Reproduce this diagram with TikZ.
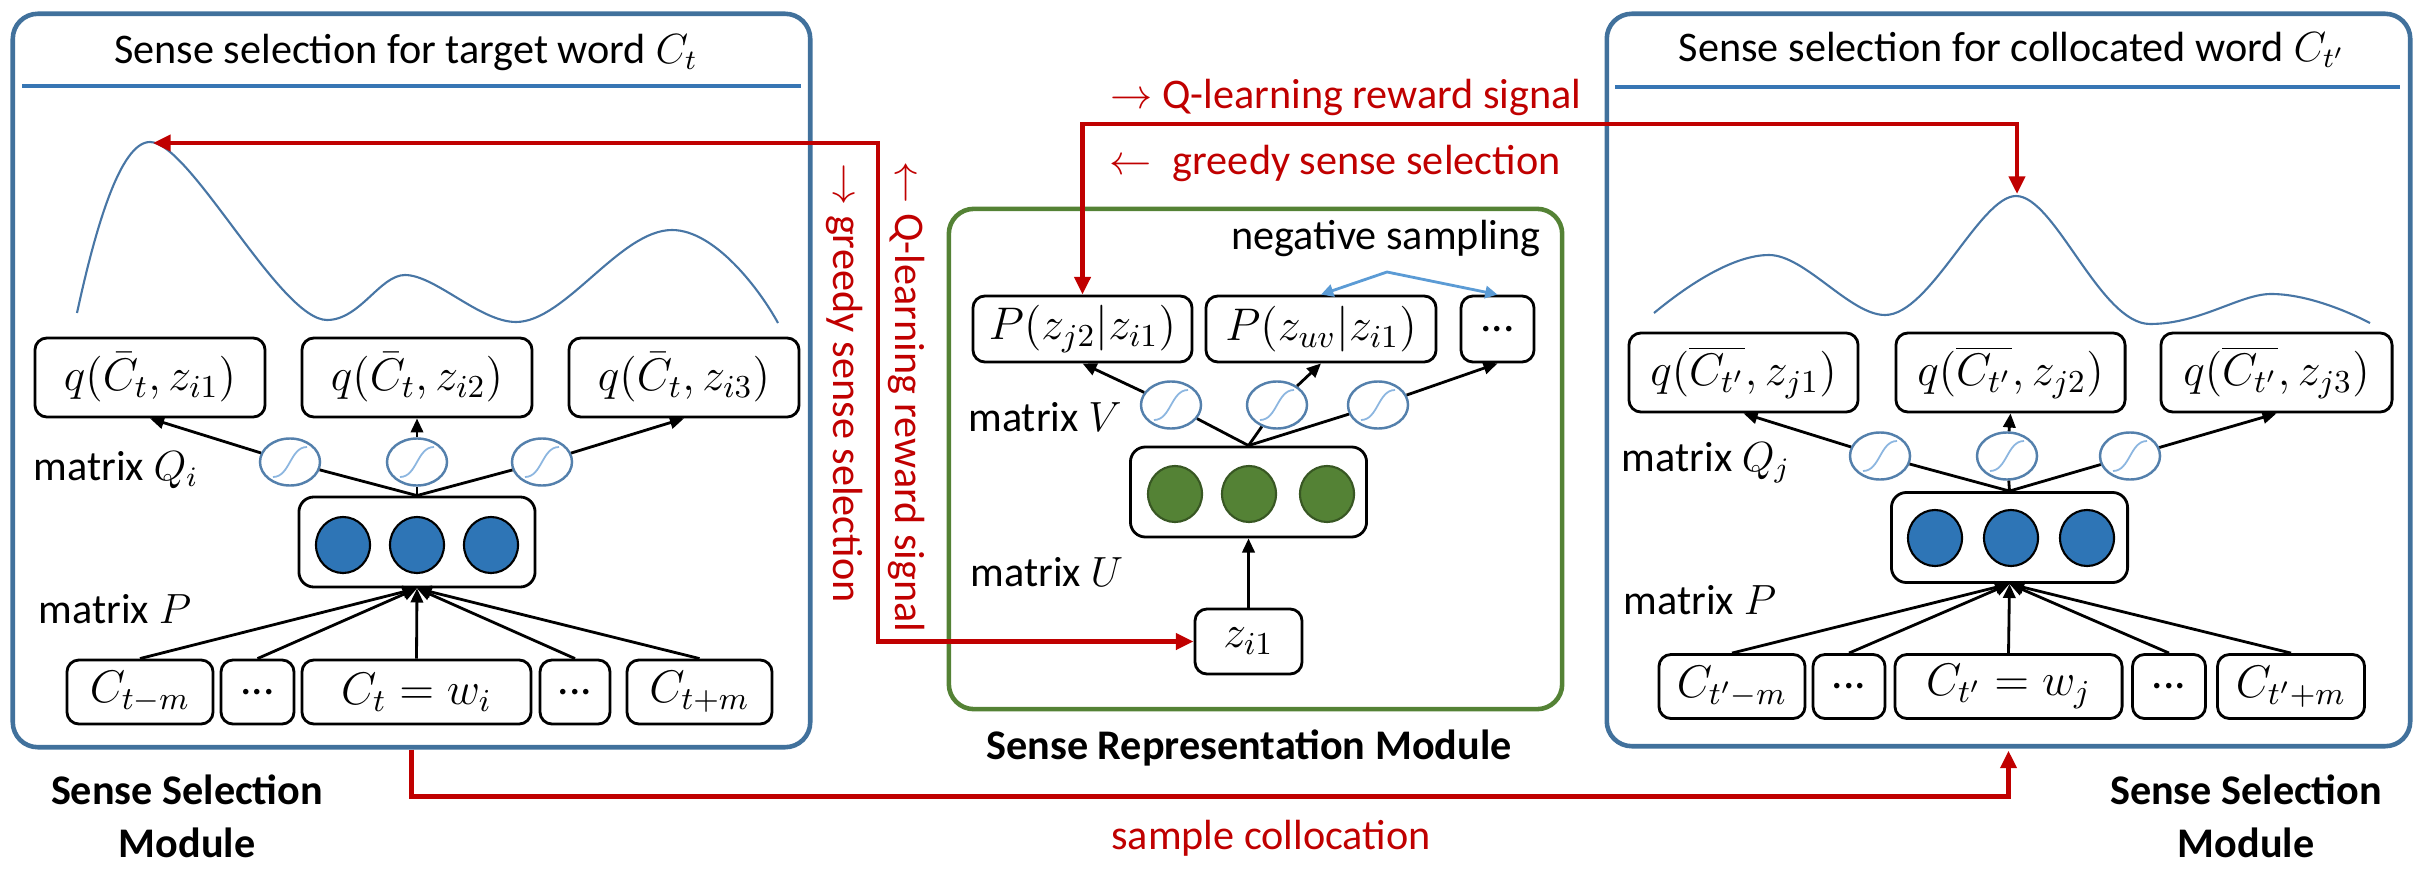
\RequirePackage{fix-cm}
\documentclass[tikz,border=0pt]{standalone}
\usepackage{fontspec}
\setmainfont{Carlito}
\usepackage{tikz}
\usetikzlibrary{arrows.meta, positioning, shapes.geometric}
\usepackage{amsmath}
\usepackage{xcolor}

\definecolor{modblue}{RGB}{65,113,156}
\definecolor{sepblue}{RGB}{55,118,180}
\definecolor{curveblue}{RGB}{72,118,165}
\definecolor{nodeblue}{RGB}{46,117,182}
\definecolor{sigblue}{RGB}{84,128,172}
\definecolor{sigcurve}{RGB}{140,182,224}
\definecolor{myred}{RGB}{192,0,0}
\definecolor{mygreen}{RGB}{84,130,53}
\definecolor{darkgreen}{RGB}{56,87,35}
\definecolor{negblue}{RGB}{91,155,213}

\begin{document}
\begin{tikzpicture}[x=0.01cm, y=-0.01cm, thick, >={Triangle[length=4pt,width=3.5pt]}, font=\fontsize{12}{14}\selectfont]

		\useasboundingbox (0,0) rectangle (2424,873);

		% Define block styles
		\tikzstyle{module} = [rectangle, rounded corners=0.25cm, draw=modblue, line width=1.3pt]
		\tikzstyle{header} = [draw=sepblue, line width=1.3pt]
		\tikzstyle{density} = [draw=curveblue, line width=0.6pt]
		\tikzstyle{qbox} = [rectangle, rounded corners=0.12cm, draw, line width=0.8pt, minimum height=0.79cm, inner sep=1pt, font=\fontsize{13}{15}\selectfont]
		\tikzstyle{word} = [qbox, minimum height=0.64cm]
		\tikzstyle{hidden} = [rectangle, rounded corners=0.15cm, draw, line width=0.8pt, minimum width=2.36cm, minimum height=0.9cm]
		\tikzstyle{neuron} = [ellipse, draw, line width=0.6pt, fill=nodeblue, minimum width=0.54cm, minimum height=0.56cm, inner sep=0pt]
		\tikzstyle{sigm} = [ellipse, draw=sigblue, line width=0.7pt, fill=white, minimum width=0.6cm, minimum height=0.47cm, inner sep=0pt]
		\tikzstyle{redline} = [draw=myred, line width=1.3pt, >={Triangle[length=5pt,width=4.5pt]}]
		\tikzstyle{negline} = [draw=negblue, line width=0.8pt, >={Triangle[length=3.5pt,width=3.5pt]}]
		\tikzstyle{redtext} = [text=myred]
		\tikzstyle{modlabel} = [font=\fontsize{12}{15}\selectfont\bfseries, align=center]

		% Nodes: sense selection for the target word
		\node[module, minimum width=7.97cm, minimum height=7.33cm] (lmod) at (411.5,380.5) {};
		\node (ltitle) at (406,52) {Sense selection for target word $C_t$};
		\draw[header] (22,86) -- (801,86);
		\draw[density] (77,313) .. controls (95,230) and (120,142) .. (150,142)
			.. controls (190,142) and (280,320) .. (327,320)
			.. controls (360,320) and (380,275) .. (405,275)
			.. controls (435,275) and (480,322) .. (516,322)
			.. controls (565,322) and (620,230) .. (672,230)
			.. controls (715,230) and (760,290) .. (778,323);
		\node[qbox, minimum width=2.30cm] (lq1) at (150,377.5) {$q(\bar{C}_t, z_{i1})$};
		\node[qbox, minimum width=2.30cm] (lq2) at (417,377.5) {$q(\bar{C}_t, z_{i2})$};
		\node[qbox, minimum width=2.30cm] (lq3) at (684,377.5) {$q(\bar{C}_t, z_{i3})$};
		\node[sigm] (ls1) at (290,462) {};
		\node[sigm] (ls2) at (417,462) {};
		\node[sigm] (ls3) at (542,462) {};
		\node[hidden] (lh) at (417,542) {};
		\node[neuron] (lc1) at (343,545) {};
		\node[neuron] (lc2) at (417,545) {};
		\node[neuron] (lc3) at (491,545) {};
		\node[word, minimum width=1.46cm] (lb1) at (140,692) {$C_{t-m}$};
		\node[word, minimum width=0.73cm] (lb2) at (257.5,692) {...};
		\node[word, minimum width=2.29cm] (lb3) at (416.5,692) {$C_t = w_i$};
		\node[word, minimum width=0.70cm] (lb4) at (575,692) {...};
		\node[word, minimum width=1.45cm] (lb5) at (699.5,692) {$C_{t+m}$};

		% Nodes: sense representation
		\node[module, draw=mygreen, minimum width=6.13cm, minimum height=5.0cm] (cmod) at (1255.5,459) {};
		\node (cneg) at (1386,238) {negative sampling};
		\node[qbox, minimum height=0.66cm, minimum width=2.19cm] (cp1) at (1082.5,329) {$P(z_{j2}|z_{i1})$};
		\node[qbox, minimum height=0.66cm, minimum width=2.30cm] (cp2) at (1321,329) {$P(z_{uv}|z_{i1})$};
		\node[qbox, minimum height=0.66cm, minimum width=0.73cm] (cp3) at (1497.5,329) {...};
		\node[sigm] (cs1) at (1171,405) {};
		\node[sigm] (cs2) at (1277,405) {};
		\node[sigm] (cs3) at (1378,405) {};
		\node[hidden] (ch) at (1248.5,492) {};
		\node[neuron, fill=mygreen, draw=darkgreen] (cc1) at (1175,494) {};
		\node[neuron, fill=mygreen, draw=darkgreen] (cc2) at (1249,494) {};
		\node[neuron, fill=mygreen, draw=darkgreen] (cc3) at (1327,494) {};
		\node[qbox, minimum height=0.65cm, minimum width=1.07cm] (zi) at (1248.5,641.5) {$z_{i1}$};

		% Nodes: sense selection for the collocated word
		\node[module, minimum width=8.03cm, minimum height=7.32cm] (rmod) at (2008.5,380) {};
		\node (rtitle) at (2012,50) {Sense selection for collocated word $C_{t'}$};
		\draw[header] (1615,87) -- (2400,87);
		\draw[density] (1654,313) .. controls (1700,275) and (1740,255) .. (1769,255)
			.. controls (1805,255) and (1850,315) .. (1885,315)
			.. controls (1930,315) and (1980,196) .. (2016,196)
			.. controls (2055,196) and (2100,324) .. (2150,324)
			.. controls (2200,324) and (2240,294) .. (2271,294)
			.. controls (2305,294) and (2345,310) .. (2370,323);
		\node[qbox, minimum width=2.29cm] (rq1) at (1743.5,372.5) {$q(\overline{C_{t'}}, z_{j1})$};
		\node[qbox, minimum width=2.29cm] (rq2) at (2010.5,372.5) {$q(\overline{C_{t'}}, z_{j2})$};
		\node[qbox, minimum width=2.31cm] (rq3) at (2276.5,372.5) {$q(\overline{C_{t'}}, z_{j3})$};
		\node[sigm] (rs1) at (1880,456) {};
		\node[sigm] (rs2) at (2007,456) {};
		\node[sigm] (rs3) at (2130,456) {};
		\node[hidden] (rh) at (2009.5,537.5) {};
		\node[neuron] (rc1) at (1935,538) {};
		\node[neuron] (rc2) at (2011,538) {};
		\node[neuron] (rc3) at (2087,538) {};
		\node[word, minimum width=1.46cm] (rb1) at (1732,686.5) {$C_{t'-m}$};
		\node[word, minimum width=0.72cm] (rb2) at (1849,686.5) {...};
		\node[word, minimum width=2.27cm] (rb3) at (2008.5,686.5) {$C_{t'} = w_j$};
		\node[word, minimum width=0.73cm] (rb4) at (2169,686.5) {...};
		\node[word, minimum width=1.47cm] (rb5) at (2291,686.5) {$C_{t'+m}$};

		% sigmoid inside every activation
		\foreach \s in {ls1,ls2,ls3,cs1,cs2,cs3,rs1,rs2,rs3}
			\draw[sigcurve, line width=0.5pt] ([shift={(-0.17cm,-0.15cm)}]\s.center) .. controls +(0.17cm,0) and +(-0.17cm,0) .. ([shift={(0.17cm,0.15cm)}]\s.center);

		% Arrows
		\foreach \b in {lb1,lb2,lb3,lb4,lb5}
			\draw[->] (\b.north) -- (lh.south);
		\foreach \b in {rb1,rb2,rb3,rb4,rb5}
			\draw[->] (\b.north) -- (rh.south);
		\foreach \i in {1,2,3} {
			\draw (lh.north) -- (ls\i);
			\draw[->] (ls\i) -- (lq\i.south);
			\draw (ch.north) -- (cs\i);
			\draw[->] (cs\i) -- (cp\i.south);
			\draw (rh.north) -- (rs\i);
			\draw[->] (rs\i) -- (rq\i.south);
		}
		\draw[->] (zi) -- (ch);
		\coordinate (negtop) at (1387,272);
		\draw[negline, <->] (cp2.north) -- (negtop) -- (cp3.north);

		% Red signals
		\coordinate (lpeak) at (153,143);
		\coordinate (lbend) at (878,143);
		\draw[redline, <->] (lpeak) -- (lbend) |- (zi);
		\coordinate (rbend) at (2017,124);
		\coordinate (rpeak) at (2017,194);
		\draw[redline, <->] (cp1.north) |- (rbend) -- (rpeak);
		\draw[redline, ->, shorten >=0.6pt] (lmod.south) -- ++(0,47) -| (rmod.south);

		% Labels
		\node (lQ) at (116,470) {matrix $Q_i$};
		\node (lP) at (115,609) {matrix $P$};
		\node (cV) at (1045,417) {matrix $V$};
		\node (cU) at (1047,572) {matrix $U$};
		\node (rQ) at (1706,463) {matrix $Q_j$};
		\node (rP) at (1700,600) {matrix $P$};
		\node[redtext] (qlabel) at (1346,97) {$\rightarrow$ Q-learning reward signal};
		\node[redtext] (glabel) at (1335,163) {$\leftarrow$\enspace greedy sense selection};
		\node[redtext, rotate=-90] (gvlabel) at (845,383) {$\rightarrow$ greedy sense selection};
		\node[redtext, rotate=-90] (qvlabel) at (907,397) {$\leftarrow$ Q-learning reward signal};
		\node[redtext] (slabel) at (1271,838) {sample collocation};
		\node[modlabel] (lname) at (187,816) {Sense Selection\\Module};
		\node[modlabel] (cname) at (1249,748) {Sense Representation Module};
		\node[modlabel] (rname) at (2246,816) {Sense Selection\\Module};

\end{tikzpicture}
\end{document}
